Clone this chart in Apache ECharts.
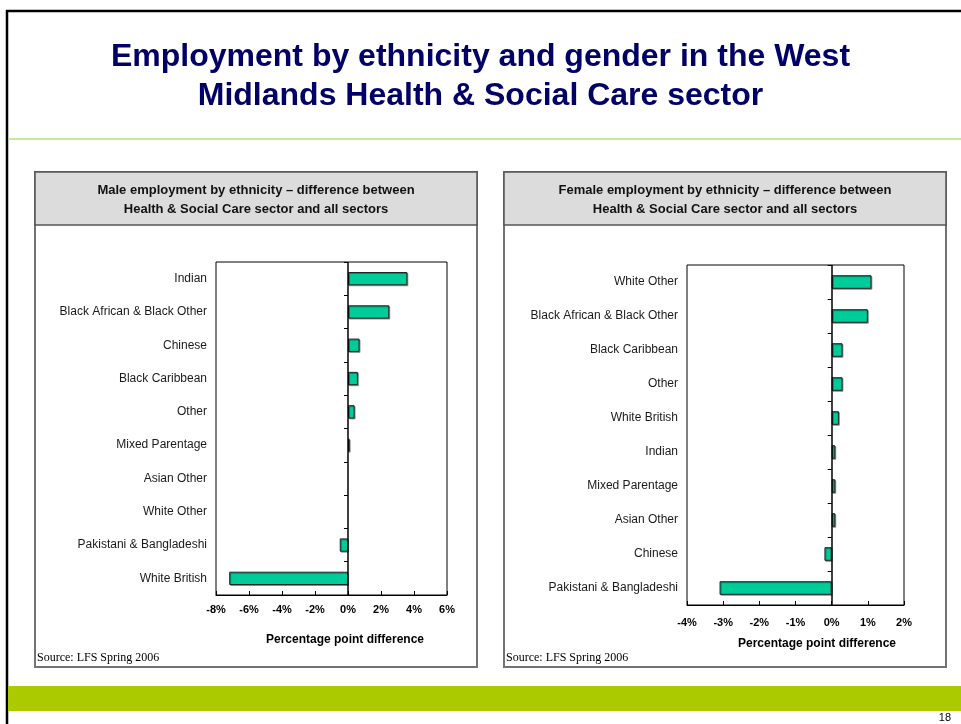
<!DOCTYPE html>
<html>
<head>
<meta charset="utf-8">
<title>Employment by ethnicity and gender</title>
<script src="https://cdn.jsdelivr.net/npm/echarts@6/dist/echarts.min.js"></script>
<style>
  html, body { margin: 0; padding: 0; background: #fff; }
  #page { width: 961px; height: 724px; }
</style>
</head>
<body>
<div id="page"></div>
<script>
// Male panel: categories listed top to bottom, values in percentage points
const maleCategories = [
  'Indian', 'Black African & Black Other', 'Chinese', 'Black Caribbean', 'Other',
  'Mixed Parentage', 'Asian Other', 'White Other', 'Pakistani & Bangladeshi', 'White British'
];
const maleValues = [3.6, 2.5, 0.7, 0.6, 0.4, 0.1, 0, 0, -0.5, -7.2];

// Female panel
const femaleCategories = [
  'White Other', 'Black African & Black Other', 'Black Caribbean', 'Other', 'White British',
  'Indian', 'Mixed Parentage', 'Asian Other', 'Chinese', 'Pakistani & Bangladeshi'
];
const femaleValues = [1.1, 1.0, 0.3, 0.3, 0.2, 0.1, 0.1, 0.1, -0.2, -3.1];

// Axis settings
const maleAxis = { min: -8, max: 6, interval: 2 };
const femaleAxis = { min: -4, max: 2, interval: 1 };

const pageTitle = 'Employment by ethnicity and gender in the West\nMidlands Health & Social Care sector';
const maleTitle = 'Male employment by ethnicity \u2013 difference between\nHealth & Social Care sector and all sectors';
const femaleTitle = 'Female employment by ethnicity \u2013 difference between\nHealth & Social Care sector and all sectors';
const axisTitle = 'Percentage point difference';
const sourceNote = 'Source: LFS Spring 2006';
const pageNumber = '18';

const SANS = '"Liberation Sans", Arial, sans-serif';
const SERIF = '"Liberation Serif", "Times New Roman", serif';
const BAR_COLOR = '#00cc99';

function valueAxis(gridIndex, cfg, labelMargin, namePad, nameGap) {
  return {
    type: 'value',
    gridIndex: gridIndex,
    min: cfg.min, max: cfg.max, interval: cfg.interval,
    splitLine: { show: false },
    axisLine: { show: true, lineStyle: { color: '#000', width: 1 } },
    axisTick: { show: true, inside: true, length: 4, lineStyle: { color: '#000' } },
    axisLabel: {
      formatter: '{value}%', margin: labelMargin,
      fontFamily: SANS, fontSize: 11, fontWeight: 'bold', color: '#000'
    },
    name: axisTitle,
    nameLocation: 'middle',
    nameGap: nameGap,
    nameTextStyle: {
      fontFamily: SANS, fontSize: 12, fontWeight: 'bold', color: '#000',
      padding: namePad
    }
  };
}

function labelAxis(gridIndex, cats) {
  return {
    type: 'category', gridIndex: gridIndex, data: cats, inverse: true,
    position: 'left',
    axisLine: { show: false, onZero: false },
    axisTick: { show: false },
    splitLine: { show: false },
    axisLabel: { margin: 9, fontFamily: SANS, fontSize: 12, color: '#1a1a1a' }
  };
}

function zeroAxis(gridIndex, cats) {
  // category ticks sitting on the zero line, at band boundaries
  return {
    type: 'category', gridIndex: gridIndex, data: cats, inverse: true,
    position: 'right',
    axisLine: { show: false, onZero: true },
    axisTick: { show: true, inside: true, length: 4, lineStyle: { color: '#000' } },
    axisLabel: { show: false },
    splitLine: { show: false }
  };
}

function barSeries(xIdx, yIdx, values) {
  return {
    type: 'bar',
    xAxisIndex: xIdx, yAxisIndex: yIdx,
    // a zero difference leaves no visible bar
    data: values.map(v => v === 0 ? { value: v, itemStyle: { opacity: 0 } } : v),
    barWidth: '40%',
    itemStyle: {
      color: BAR_COLOR, borderColor: '#222', borderWidth: 1,
      shadowColor: 'rgba(0,0,0,0.35)', shadowOffsetX: 1, shadowOffsetY: 1, shadowBlur: 0
    },
    // vertical zero line across the plot
    markLine: {
      silent: true,
      symbol: 'none',
      label: { show: false },
      lineStyle: { color: '#000', width: 1.5, type: 'solid', opacity: 1 },
      data: [{ xAxis: 0 }]
    },
    silent: true,
    animation: false
  };
}

function panel(x, y, w, h, headH, title, note) {
  return [
    { type: 'rect', shape: { x: x, y: y, width: w, height: h },
      style: { fill: '#fff', stroke: '#737373', lineWidth: 2 }, z: -10 },
    { type: 'rect', shape: { x: x, y: y, width: w, height: headH },
      style: { fill: '#dcdcdc', stroke: '#555', lineWidth: 1.5 }, z: -9 },
    { type: 'text', x: x + w / 2, y: y + 9,
      style: { text: title, fill: '#111', font: 'bold 13px ' + SANS,
               textAlign: 'center', textVerticalAlign: 'top', lineHeight: 19 }, z: -8 },
    { type: 'text', x: x + 2, y: y + h - 9,
      style: { text: note, fill: '#000', font: '12px ' + SERIF,
               textAlign: 'left', textVerticalAlign: 'middle' }, z: -8 }
  ];
}

const chart = echarts.init(document.getElementById('page'), null, { renderer: 'canvas' });

chart.setOption({
  animation: false,
  backgroundColor: '#fff',
  title: {
    text: pageTitle,
    left: 'center', top: 38, padding: 0,
    textStyle: { fontFamily: SANS, fontSize: 32, fontWeight: 'bold', color: '#000066', lineHeight: 39 }
  },
  grid: [
    { left: 216, top: 262, width: 231, height: 333, show: true, borderColor: '#000', borderWidth: 1, backgroundColor: 'transparent' },
    { left: 687, top: 265, width: 217, height: 340, show: true, borderColor: '#000', borderWidth: 1, backgroundColor: 'transparent' }
  ],
  xAxis: [
    valueAxis(0, maleAxis, 9, [0, 0, 0, 27], 39),
    valueAxis(1, femaleAxis, 12, [0, 0, 0, 43], 33)
  ],
  yAxis: [
    labelAxis(0, maleCategories),
    zeroAxis(0, maleCategories),
    labelAxis(1, femaleCategories),
    zeroAxis(1, femaleCategories)
  ],
  series: [
    barSeries(0, 0, maleValues),
    barSeries(1, 2, femaleValues)
  ],
  graphic: [
    // slide frame
    { type: 'polyline', shape: { points: [[7, 724], [7, 11], [961, 11]] },
      style: { stroke: '#000', lineWidth: 2.5, fill: null }, z: -20 },
    { type: 'line', shape: { x1: 8, y1: 139, x2: 961, y2: 139 },
      style: { stroke: '#b8e07a', lineWidth: 1.5 }, z: -20 },
    { type: 'rect', shape: { x: 8, y: 686, width: 953, height: 25 },
      style: { fill: '#abcb00' }, z: -20 },
    { type: 'text', x: 951, y: 718,
      style: { text: pageNumber, fill: '#000', font: '11px ' + SANS,
               textAlign: 'right', textVerticalAlign: 'middle' }, z: -20 }
  ].concat(
    panel(35, 172, 442, 495, 53, maleTitle, sourceNote),
    panel(504, 172, 442, 495, 53, femaleTitle, sourceNote)
  )
});
</script>
</body>
</html>
